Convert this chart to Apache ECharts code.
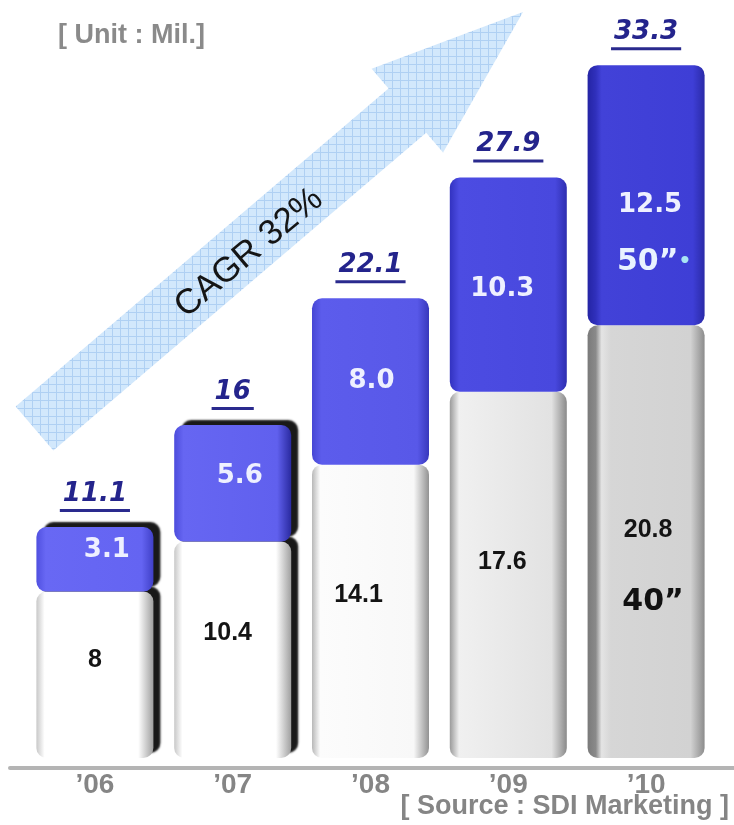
<!DOCTYPE html>
<html>
<head>
<meta charset="utf-8">
<script src="https://cdn.jsdelivr.net/npm/echarts@6/dist/echarts.min.js"></script>
<style>
html,body{margin:0;padding:0;background:#fff;}
#chart{width:734px;height:825px;}
</style>
</head>
<body>
<div id="chart"></div>
<script>
// ---- data ----
const categories = ['\u201906', '\u201907', '\u201908', '\u201909', '\u201910'];
const size40 = [8, 10.4, 14.1, 17.6, 20.8];
const size50 = [3.1, 5.6, 8.0, 10.3, 12.5];
const totals = [11.1, 16, 22.1, 27.9, 33.3];
const totalLabels = ['11.1', '16', '22.1', '27.9', '33.3'];
const labels40 = ['8', '10.4', '14.1', '17.6', '20.8'];
const labels50 = ['3.1', '5.6', '8.0', '10.3', '12.5'];
const seriesNames = ['40\u201D', '50\u201D'];
const unitText = '[ Unit : Mil.]';
const sourceText = '[ Source : SDI Marketing ]';
const cagrText = 'CAGR 32%';

// ---- styles ----
function hGrad(stops) {
  return new echarts.graphic.LinearGradient(0, 0, 1, 0,
    stops.map(s => ({ offset: s[0], color: s[1] })));
}
const shadow3d = { shadowColor: 'rgba(0,0,0,0.9)', shadowOffsetX: 7, shadowOffsetY: -5, shadowBlur: 2 };
const whiteStyles = [
  Object.assign({ color: hGrad([[0, '#c8c8c8'], [0.07, '#ffffff'], [0.87, '#ffffff'], [1, '#a0a0a0']]) }, shadow3d),
  Object.assign({ color: hGrad([[0, '#c8c8c8'], [0.07, '#ffffff'], [0.87, '#ffffff'], [1, '#a0a0a0']]) }, shadow3d),
  { color: hGrad([[0, '#b8b8b8'], [0.07, '#fcfcfc'], [0.87, '#f8f8f8'], [1, '#929292']]) },
  { color: hGrad([[0, '#9a9a9a'], [0.08, '#f0f0f0'], [0.87, '#e2e2e2'], [1, '#8a8a8a']]) },
  { color: hGrad([[0, '#7a7a7a'], [0.07, '#8a8a8a'], [0.12, '#e4e4e4'], [0.2, '#d6d6d6'], [0.88, '#d2d2d2'], [1, '#8c8c8c']]) }
];
const blueStyles = [
  Object.assign({ color: hGrad([[0, '#5050e0'], [0.08, '#6868f4'], [0.9, '#6464f2'], [1, '#4040c8']]) }, shadow3d),
  Object.assign({ color: hGrad([[0, '#4c4cdc'], [0.08, '#6666f2'], [0.88, '#6060ee'], [1, '#2a2aa0']]) }, shadow3d),
  { color: hGrad([[0, '#4646d4'], [0.08, '#5c5cec'], [0.9, '#5858e8'], [1, '#3838bc']]) },
  { color: hGrad([[0, '#3232c0'], [0.08, '#4c4ce2'], [0.9, '#4848de'], [1, '#2e2eb0']]) },
  { color: hGrad([[0, '#2424a4'], [0.07, '#3030bc'], [0.12, '#4242d8'], [0.9, '#3e3ed6'], [1, '#2a2aa8']]) }
];
const offsets40 = [[0, -15], [-5, -17], [-12, -16], [-6, -13]];
const offsets50 = [[12, -9], [7, -7], [1, 0], [-6, 5]];

const whiteLabelStyle = { color: '#141414', fontFamily: 'Liberation Sans', fontWeight: 'bold', fontSize: 25 };
const blueLabelStyle = { color: '#eef0ff', fontFamily: 'DejaVu Sans', fontWeight: 'bold', fontSize: 26 };

const data40 = size40.map((v, i) => {
  const item = { value: v, itemStyle: Object.assign({ borderRadius: 10 }, whiteStyles[i]) };
  if (i < 4) {
    item.label = Object.assign({ show: true, position: 'inside', offset: offsets40[i],
      formatter: () => labels40[i] }, whiteLabelStyle);
  } else {
    item.label = { show: true, position: 'inside', offset: [2, 48],
      formatter: () => '{v|' + labels40[i] + '}\n{s|' + seriesNames[0] + '}',
      rich: {
        v: Object.assign({ lineHeight: 26 }, whiteLabelStyle),
        s: { color: '#111', fontFamily: 'DejaVu Sans', fontWeight: 'bold', fontSize: 30, lineHeight: 120, padding: [0, 0, 0, 10] }
      } };
  }
  return item;
});
const data50 = size50.map((v, i) => {
  const item = { value: v, itemStyle: Object.assign({ borderRadius: 10 }, blueStyles[i]) };
  if (i < 4) {
    item.label = Object.assign({ show: true, position: 'inside', offset: offsets50[i],
      formatter: () => labels50[i] }, blueLabelStyle);
  } else {
    item.label = { show: true, position: 'inside', offset: [4, 53],
      formatter: () => '{v|' + labels50[i] + '}\n{s|' + seriesNames[1] + '}{d|\u2022}',
      rich: {
        v: Object.assign({ lineHeight: 28 }, blueLabelStyle),
        s: { color: '#e8f2ff', fontFamily: 'DejaVu Sans', fontWeight: 'bold', fontSize: 30, lineHeight: 86, padding: [0, 0, 0, 8] },
        d: { color: '#a8e4f4', fontFamily: 'DejaVu Sans', fontWeight: 'bold', fontSize: 20, lineHeight: 86 }
      } };
  }
  return item;
});

// ---- arrow decoration (background) ----
function makePattern() {
  const c = document.createElement('canvas');
  c.width = 8; c.height = 8;
  const g = c.getContext('2d');
  g.fillStyle = '#d2e8fc'; g.fillRect(0, 0, 8, 8);
  g.fillStyle = '#afd0f3'; g.fillRect(0, 0, 8, 1); g.fillRect(0, 0, 1, 8);
  return c;
}
function arrowPoints() {
  const tail = [34.5, 428.5], tip = [523, 12];
  const dx = tip[0] - tail[0], dy = tip[1] - tail[1];
  const L = Math.hypot(dx, dy);
  const d = [dx / L, dy / L], n = [-d[1], d[0]];
  const loc = [[0, -29], [490, -29], [490, -55], [L, 0], [490, 55], [490, 29], [0, 29]];
  return loc.map(p => [tail[0] + p[0] * d[0] + p[1] * n[0], tail[1] + p[0] * d[1] + p[1] * n[1]]);
}

const measureCtx = document.createElement('canvas').getContext('2d');
const totalFont = { fontFamily: 'DejaVu Sans', fontWeight: 'bold', fontStyle: 'italic', fontSize: 26 };

const chart = echarts.init(document.getElementById('chart'), null, { renderer: 'canvas' });
chart.setOption({
  animation: false,
  backgroundColor: '#fff',
  grid: [
    { left: 26, right: 19, top: 9, bottom: 67 },
    { left: 10, right: 0, top: 9, bottom: 57 }
  ],
  xAxis: [
    { type: 'category', gridIndex: 0, data: categories,
      axisLine: { show: false }, axisTick: { show: false },
      axisLabel: { margin: 13, color: '#858585', fontFamily: 'Liberation Sans', fontWeight: 'bold', fontSize: 28 } },
    { type: 'value', gridIndex: 1, min: 0, max: 1,
      axisLine: { show: true, lineStyle: { color: '#b4b4b4', width: 4 } },
      axisTick: { show: false }, axisLabel: { show: false }, splitLine: { show: false } }
  ],
  yAxis: [
    { type: 'value', gridIndex: 0, min: 0, max: 36, show: false, splitLine: { show: false } },
    { type: 'value', gridIndex: 1, min: 0, max: 1, show: false, splitLine: { show: false } }
  ],
  graphic: [
    { type: 'polygon', z: -10, shape: { points: arrowPoints() },
      style: { fill: { image: makePattern(), repeat: 'repeat' } } },
    { type: 'text', z: -5, x: 249, y: 253, rotation: 40 * Math.PI / 180,
      style: { text: cagrText, fill: '#151515', font: '35px "Liberation Sans"', align: 'center', verticalAlign: 'middle' } },
    { type: 'text', x: 58, y: 36,
      style: { text: unitText, fill: '#8a8a8a', font: 'bold 27px "Liberation Sans"', align: 'left', verticalAlign: 'middle' } },
    { type: 'text', x: 729, y: 807,
      style: { text: sourceText, fill: '#858585', font: 'bold 27px "Liberation Sans"', align: 'right', verticalAlign: 'middle' } }
  ],
  series: [
    { name: seriesNames[0], type: 'bar', stack: 'tv', barWidth: 117, data: data40, xAxisIndex: 0, yAxisIndex: 0 },
    { name: seriesNames[1], type: 'bar', stack: 'tv', barWidth: 117, data: data50, xAxisIndex: 0, yAxisIndex: 0 },
    { name: 'Total', type: 'custom', xAxisIndex: 0, yAxisIndex: 0, z: 5,
      data: totals.map((v, i) => [i, v]),
      renderItem: function (params, api) {
        const p = api.coord([api.value(0), api.value(1)]);
        const txt = totalLabels[params.dataIndex];
        measureCtx.font = 'italic bold 26px "DejaVu Sans"';
        const w = measureCtx.measureText(txt).width + 6;
        return { type: 'group', children: [
          { type: 'text', x: p[0], y: p[1] - 33,
            style: Object.assign({ text: txt, fill: '#24248c', align: 'center', verticalAlign: 'middle' }, totalFont) },
          { type: 'rect', shape: { x: p[0] - w / 2, y: p[1] - 18, width: w, height: 3 },
            style: { fill: '#2a2a8e' } }
        ] };
      } }
  ]
});
</script>
</body>
</html>
